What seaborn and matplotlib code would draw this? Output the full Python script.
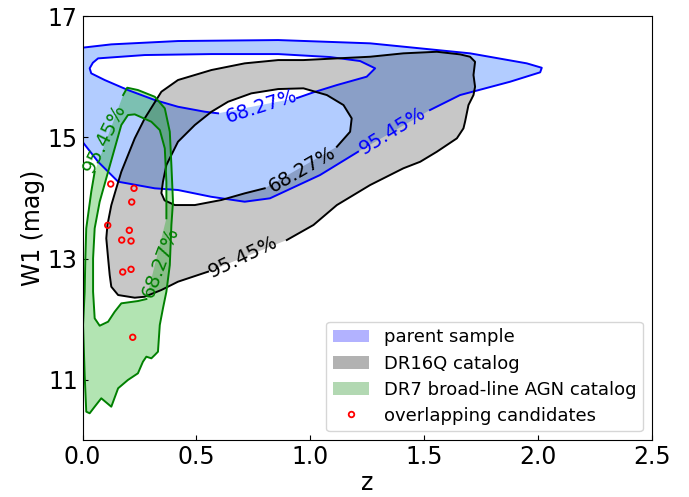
import numpy as np
import pandas as pd
import matplotlib
matplotlib.use("Agg")
import matplotlib.pyplot as plt
from matplotlib.path import Path
from matplotlib.patches import PathPatch, Patch
from matplotlib.lines import Line2D
import seaborn as sns

# ---------------- data ----------------
# parent sample, 95.45% contour (open at label gap)
parent95_z = [1.210, 1.043, 0.823, 0.712, 0.564, 0.419, 0.317, 0.156, 0.068, -0.02,
              -0.02, 0.126, 0.419, 0.859, 1.263, 1.702, 1.951, 2.017, 2.010, 1.878,
              1.658, 1.526]
parent95_w = [14.762, 14.378, 13.994, 13.938, 14.02, 14.131, 14.159, 14.268, 14.597, 15.02,
              16.47, 16.533, 16.588, 16.604, 16.55, 16.385, 16.22, 16.147, 16.072, 15.917,
              15.697, 15.45]
# parent sample, 68.27% contour
parent68_z = [0.595, 0.537, 0.419, 0.317, 0.199, 0.097, 0.038, 0.031, 0.045, 0.068, 0.273,
              0.566, 0.859, 1.087, 1.219, 1.285, 1.248, 1.117, 1.014, 0.942]
parent68_w = [15.396, 15.422, 15.504, 15.615, 15.78, 15.945, 16.055, 16.138, 16.23, 16.302,
              16.357, 16.373, 16.373, 16.324, 16.258, 16.138, 16.0, 15.862, 15.742, 15.648]

# DR16Q catalog, 95.45% contour
dr16q95_z = [0.551, 0.419, 0.346, 0.273, 0.229, 0.156, 0.126, 0.119, 0.112, 0.104, 0.109,
             0.126, 0.148, 0.170, 0.229, 0.273, 0.346, 0.419, 0.566, 0.712, 0.859, 0.970,
             1.117, 1.263, 1.409, 1.556, 1.658, 1.702, 1.724, 1.717, 1.724, 1.717, 1.695,
             1.680, 1.673, 1.644, 1.556, 1.483, 1.409, 1.263, 1.117, 1.014, 0.897]
dr16q95_w = [12.784, 12.619, 12.482, 12.371, 12.355, 12.399, 12.536, 12.729, 13.004, 13.334,
             13.554, 13.88, 14.16, 14.432, 14.983, 15.313, 15.752, 15.945, 16.110, 16.22,
             16.274, 16.274, 16.302, 16.329, 16.385, 16.411, 16.368, 16.329, 16.246, 16.027,
             15.834, 15.697, 15.532, 15.257, 15.148, 14.983, 14.762, 14.597, 14.489, 14.213,
             13.883, 13.554, 13.306]
# DR16Q catalog, 68.27% contour
dr16q68_z = [0.800, 0.712, 0.609, 0.493, 0.405, 0.360, 0.346, 0.353, 0.368, 0.419, 0.493,
             0.566, 0.639, 0.741, 0.859, 0.970, 1.073, 1.146, 1.182, 1.175, 1.117]
dr16q68_w = [14.159, 14.076, 13.966, 13.883, 13.883, 13.96, 14.08, 14.27, 14.543, 14.927,
             15.203, 15.422, 15.587, 15.725, 15.796, 15.808, 15.697, 15.532, 15.313, 15.092,
             14.845]

# DR7 broad-line AGN catalog, 95.45% contour
dr7_95_z = [0.178, 0.196, 0.243, 0.317, 0.361, 0.383, 0.390, 0.397, 0.390, 0.383, 0.368,
            0.353, 0.339, 0.331, 0.317, 0.302, 0.280, 0.265, 0.243, 0.199, 0.156, 0.126,
            0.082, 0.053, 0.031, 0.016, 0.009, 0.002, 0.009, 0.012, 0.016, 0.038, 0.053]
dr7_95_w = [15.697, 15.818, 15.78, 15.669, 15.478, 15.092, 14.543, 13.938, 13.554, 12.894,
            12.454, 12.18, 11.905, 11.464, 11.410, 11.355, 11.382, 11.299, 11.108, 10.998,
            10.861, 10.557, 10.696, 10.557, 10.449, 10.475, 11.08, 11.905, 12.454, 13.004,
            13.499, 14.103, 14.432]
# DR7 broad-line AGN catalog, 68.27% contour
dr7_68_z = [0.280, 0.243, 0.170, 0.141, 0.112, 0.075, 0.053, 0.046, 0.046, 0.053, 0.075,
            0.112, 0.141, 0.170, 0.199, 0.229, 0.302, 0.339, 0.361, 0.368, 0.368]
dr7_68_w = [12.333, 12.30, 12.262, 12.124, 11.959, 11.893, 12.015, 12.454, 13.004, 13.499,
            13.938, 14.432, 14.818, 15.203, 15.367, 15.379, 15.257, 15.12, 14.818, 14.268,
            13.664]

# overlapping candidates
cand_z = [0.1235, 0.2258, 0.2157, 0.1103, 0.2052, 0.1718, 0.2127, 0.1762, 0.2127, 0.2201]
cand_w = [14.23, 14.159, 13.933, 13.549, 13.466, 13.306, 13.29, 12.779, 12.823, 11.702]

# contour labels: (text, z, W1, rotation)
label_text = ["68.27%", "95.45%", "68.27%", "95.45%", "95.45%", "68.27%"]
label_z = [0.784, 1.36, 0.964, 0.705, 0.097, 0.342]
label_w = [15.516, 15.10, 14.461, 13.026, 14.983, 12.943]
label_rot = [17.7, 31.6, 30.0, 25.5, 63.5, 69.5]
label_col = ["blue", "blue", "black", "black", "green", "green"]

legend_labels = ["parent sample", "DR16Q catalog", "DR7 broad-line AGN catalog",
                 "overlapping candidates"]

x_ticks = [0.0, 0.5, 1.0, 1.5, 2.0, 2.5]
y_ticks = [11, 13, 15, 17]

# ---------------- drawing ----------------
def signed_area(z, w):
    z = np.asarray(z, float); w = np.asarray(w, float)
    return 0.5 * np.sum(z * np.roll(w, -1) - np.roll(z, -1) * w)


def ring_patch(oz, ow, iz, iw, **kw):
    outer = np.column_stack([oz, ow])
    inner = np.column_stack([iz, iw])
    if signed_area(oz, ow) < 0:
        outer = outer[::-1]
    if signed_area(iz, iw) > 0:
        inner = inner[::-1]
    verts = np.concatenate([outer, outer[:1], inner, inner[:1]])
    codes = ([Path.MOVETO] + [Path.LINETO] * (len(outer) - 1) + [Path.CLOSEPOLY] +
             [Path.MOVETO] + [Path.LINETO] * (len(inner) - 1) + [Path.CLOSEPOLY])
    return PathPatch(Path(verts, codes), **kw)


fig = plt.figure(figsize=(6.89, 4.97), dpi=100)
ax = fig.add_axes([0.1199, 0.1137, 0.826, 0.854])

fills = [
    (parent95_z, parent95_w, parent68_z, parent68_w, (0.0, 0.35, 1.0), 0.30),
    (dr16q95_z, dr16q95_w, dr16q68_z, dr16q68_w, (0.0, 0.0, 0.0), 0.22),
    (dr7_95_z, dr7_95_w, dr7_68_z, dr7_68_w, (0.0, 0.65, 0.0), 0.30),
]
for oz, ow, iz, iw, col, a in fills:
    ax.add_patch(ring_patch(oz, ow, iz, iw, facecolor=col, alpha=a,
                            edgecolor="none", zorder=1))

lines = [
    (parent95_z, parent95_w, "blue"), (parent68_z, parent68_w, "blue"),
    (dr16q95_z, dr16q95_w, "black"), (dr16q68_z, dr16q68_w, "black"),
    (dr7_95_z, dr7_95_w, "green"), (dr7_68_z, dr7_68_w, "green"),
]
for z, w, col in lines:
    df = pd.DataFrame({"z": z, "W1": w})
    sns.lineplot(data=df, x="z", y="W1", sort=False, estimator=None,
                 color=col, lw=1.4, ax=ax, zorder=2)

for t, z, w, r, c in zip(label_text, label_z, label_w, label_rot, label_col):
    ax.text(z, w, t, rotation=r, rotation_mode="anchor", ha="center", va="center",
            fontsize=14, color=c, zorder=3)

sns.scatterplot(x=cand_z, y=cand_w, ax=ax, s=16, facecolors="none",
                edgecolors="red", linewidths=1.3, zorder=4)

ax.set_xlim(0, 2.5)
ax.set_ylim(10, 17)
ax.set_xticks(x_ticks)
ax.set_yticks(y_ticks)
ax.tick_params(direction="in", labelsize=17, top=False, right=False)
ax.set_xlabel("z", fontsize=17, labelpad=1)
ax.set_ylabel("W1 (mag)", fontsize=17, labelpad=2)

handles = [
    Patch(facecolor="blue", alpha=0.3, edgecolor="none"),
    Patch(facecolor="black", alpha=0.3, edgecolor="none"),
    Patch(facecolor="green", alpha=0.3, edgecolor="none"),
    Line2D([], [], ls="none", marker="o", ms=4, mfc="none", mec="red", mew=1.3),
]
ax.legend(handles, legend_labels, loc="lower right", fontsize=13,
          labelspacing=0.45, borderpad=0.37)

fig.savefig("out.png", dpi=100)
